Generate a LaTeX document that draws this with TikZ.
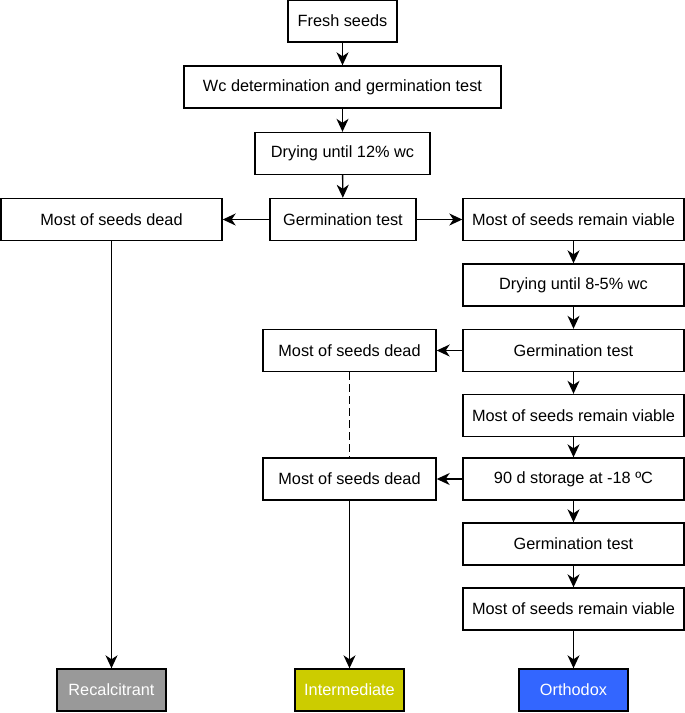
\documentclass[tikz,border=0pt]{standalone}
\usepackage{fontspec}
\setmainfont{Liberation Sans}
\usepackage{tikz}
\usetikzlibrary{arrows.meta, positioning}

\definecolor{recalcgray}{HTML}{999999}
\definecolor{intermyellow}{HTML}{CCCC00}
\definecolor{orthoblue}{HTML}{3366FF}

\begin{document}
\begin{tikzpicture}[x=1pt, y=-1pt,
    box/.style={draw, line width=1.4pt, inner sep=0pt, minimum height=42pt,
                font=\fontsize{16.3}{19}\selectfont},
    flow/.style={line width=1.4pt, -{Stealth[length=13pt,width=12pt,inset=4pt]}},
    result/.style={box, text=white, minimum width=109pt}]
    \useasboundingbox (0,0) rectangle (685,713);

    % Main column
    \node[box, minimum width=109pt] (fresh) at (342.5,21) {Fresh seeds};
    \node[box, minimum width=317pt] (wcdet) at (342.5,87) {Wc determination and germination test};
    \node[box, minimum width=175pt] (dry12) at (342.5,153.5) {Drying until 12\% wc};
    \node[box, minimum width=146pt] (germA) at (343,219.5) {Germination test};

    % Left branch
    \node[box, minimum width=221pt] (deadA) at (111.5,219.5) {Most of seeds dead};

    % Right column
    \node[box, minimum width=221pt] (viableA) at (573.5,219.5) {Most of seeds remain viable};
    \node[box, minimum width=221pt] (dry85) at (573.5,285) {Drying until 8-5\% wc};
    \node[box, minimum width=221pt] (germB) at (573.5,350.5) {Germination test};
    \node[box, minimum width=221pt] (viableB) at (573.5,415.5) {Most of seeds remain viable};
    \node[box, minimum width=221pt] (storage) at (573.5,479) {90 d storage at -18 ºC};
    \node[box, minimum width=221pt] (germC) at (573.5,544) {Germination test};
    \node[box, minimum width=221pt] (viableC) at (573.5,609) {Most of seeds remain viable};

    % Middle branch
    \node[box, minimum width=173pt] (deadB) at (349.5,350.5) {Most of seeds dead};
    \node[box, minimum width=173pt] (deadC) at (349.5,479) {Most of seeds dead};

    % Seed categories
    \node[result, fill=recalcgray] (recalc) at (111.5,690) {Recalcitrant};
    \node[result, fill=intermyellow] (interm) at (349.5,690) {Intermediate};
    \node[result, fill=orthoblue] (ortho) at (573.5,690) {Orthodox};

    % Arrows
    \draw[flow] (fresh) -- (wcdet);
    \draw[flow] (wcdet) -- (dry12);
    \draw[flow] (dry12) -- (germA);
    \draw[flow] (germA) -- (deadA);
    \draw[flow] (germA) -- (viableA);
    \draw[flow] (viableA) -- (dry85);
    \draw[flow] (dry85) -- (germB);
    \draw[flow] (germB) -- (deadB);
    \draw[flow] (germB) -- (viableB);
    \draw[flow] (viableB) -- (storage);
    \draw[flow] (storage) -- (deadC);
    \draw[flow] (storage) -- (germC);
    \draw[flow] (germC) -- (viableC);
    \draw[flow] (viableC) -- (ortho);
    \draw[flow] (deadA) -- (recalc);
    \draw[flow] (deadC) -- (interm);

    % Dashed link
    \draw[line width=1.4pt, dash pattern=on 8pt off 4pt] (deadB) -- (deadC);
\end{tikzpicture}
\end{document}
